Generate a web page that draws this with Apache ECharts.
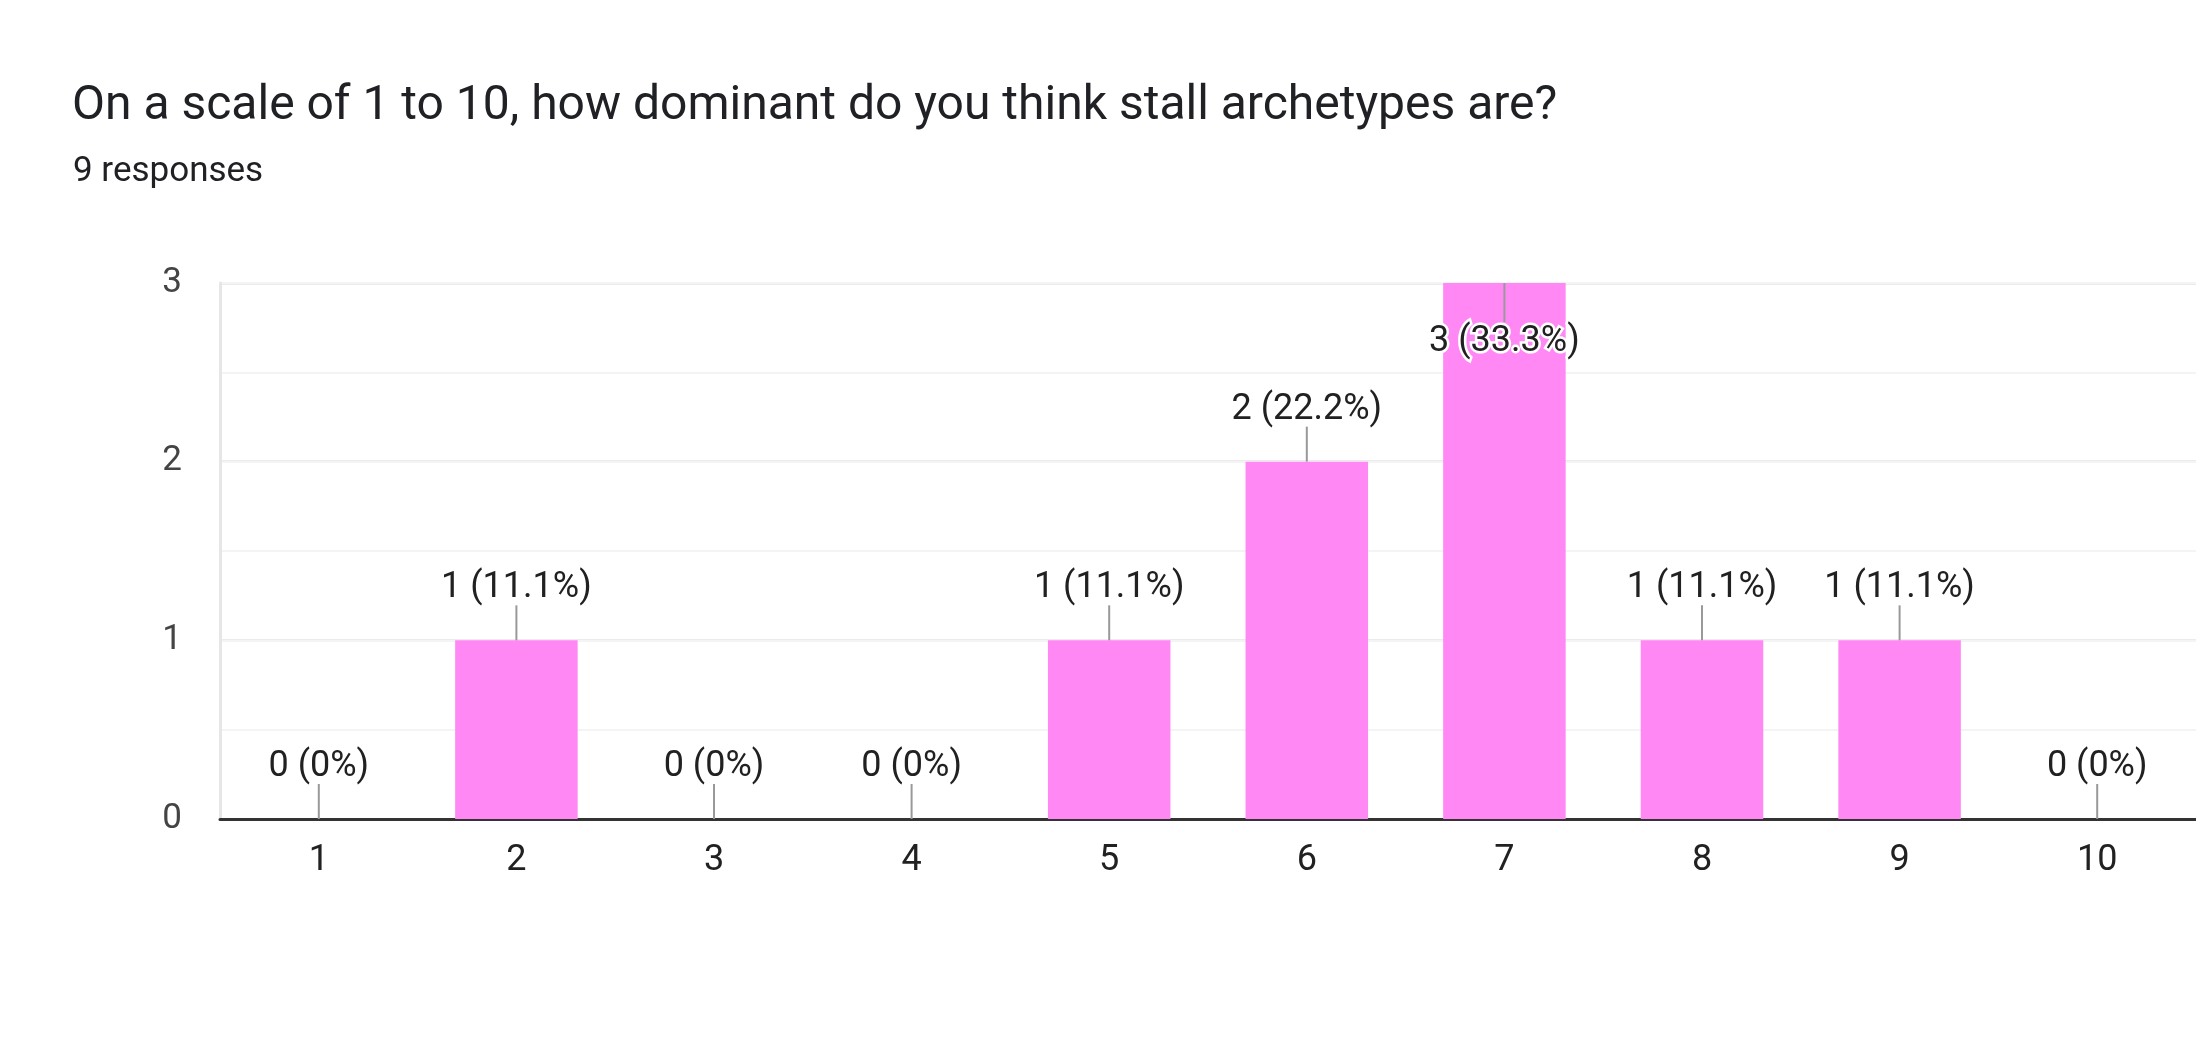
<!DOCTYPE html>
<html>
<head>
<meta charset="utf-8">
<script src="https://cdn.jsdelivr.net/npm/echarts@6/dist/echarts.min.js"></script>
<style>
  html, body { margin: 0; padding: 0; background: #fff; }
  #chart { width: 2196px; height: 1044px; }
</style>
</head>
<body>
<div id="chart"></div>
<script>
// 数据
const titleText = 'On a scale of 1 to 10, how dominant do you think stall archetypes are?';
const subText = '9 responses';
const categories = ['1', '2', '3', '4', '5', '6', '7', '8', '9', '10'];
const counts = [0, 1, 0, 0, 1, 2, 3, 1, 1, 0];
const percents = ['0%', '11.1%', '0%', '0%', '11.1%', '22.2%', '33.3%', '11.1%', '11.1%', '0%'];
const yMax = 3;

const myChart = echarts.init(document.getElementById('chart'));

const labelFont = {
    fontFamily: 'Roboto',
    fontSize: 36,
    lineHeight: 36,
    color: '#212121'
};

let barData = counts.map(function (v, i) {
    let item = { value: v };
    if (v === yMax) {
        // 最高的柱子标签放在里面
        item.label = {
            position: 'insideTop',
            distance: 41,
            textBorderColor: '#fff',
            textBorderWidth: 5
        };
    }
    return item;
});

let option = {
    animation: false,
    backgroundColor: '#fff',
    title: [{
        text: titleText,
        left: 67,
        top: 78,
        textStyle: { fontFamily: 'Roboto', fontSize: 48, fontWeight: 'normal', color: '#202124' }
    }, {
        text: subText,
        left: 68,
        top: 150,
        textStyle: { fontFamily: 'Roboto', fontSize: 35, fontWeight: 'normal', color: '#202124' }
    }],
    grid: { left: 220, right: 0, top: 283, bottom: 225, containLabel: false },
    xAxis: {
        type: 'category',
        data: categories,
        axisLine: { lineStyle: { color: '#333', width: 3 } },
        axisTick: { show: false },
        axisLabel: { fontFamily: 'Roboto', fontSize: 36, color: '#212121', margin: 24 },
        splitLine: { show: false }
    },
    yAxis: [{
        type: 'value',
        min: 0,
        max: yMax,
        interval: 1,
        axisLine: { show: true, lineStyle: { color: '#e6e6e6', width: 3 } },
        axisTick: { show: false },
        axisLabel: { fontFamily: 'Roboto', fontSize: 35, color: '#444', margin: 38, padding: [4, 0, 0, 0] },
        splitLine: { lineStyle: { color: '#ebebeb', width: 3 } }
    }, {
        type: 'value',
        min: 0,
        max: yMax,
        interval: 0.5,
        position: 'left',
        axisLine: { show: false },
        axisTick: { show: false },
        axisLabel: { show: false },
        splitLine: { lineStyle: { color: '#f4f4f4', width: 2 } }
    }],
    series: [{
        type: 'bar',
        data: barData,
        barWidth: '62%',
        itemStyle: { color: '#ff88f5' },
        label: Object.assign({
            show: true,
            position: 'top',
            distance: 34,
            formatter: function (p) {
                return counts[p.dataIndex] + ' (' + percents[p.dataIndex] + ')';
            }
        }, labelFont),
        z: 2
    }, {
        // 引线
        type: 'custom',
        data: counts.map(function (v, i) { return [i, v]; }),
        renderItem: function (params, api) {
            let pt = api.coord([api.value(0), api.value(1)]);
            let len = api.value(1) === yMax ? 39 : -35;
            return {
                type: 'line',
                shape: { x1: pt[0], y1: pt[1], x2: pt[0], y2: pt[1] + len },
                style: { stroke: '#999', lineWidth: 2 }
            };
        },
        z: 3
    }]
};
myChart.setOption(option);
window.addEventListener('resize', function () {
    setTimeout(function () {
        myChart.resize();
    }, 100);
});
</script>
</body>
</html>
